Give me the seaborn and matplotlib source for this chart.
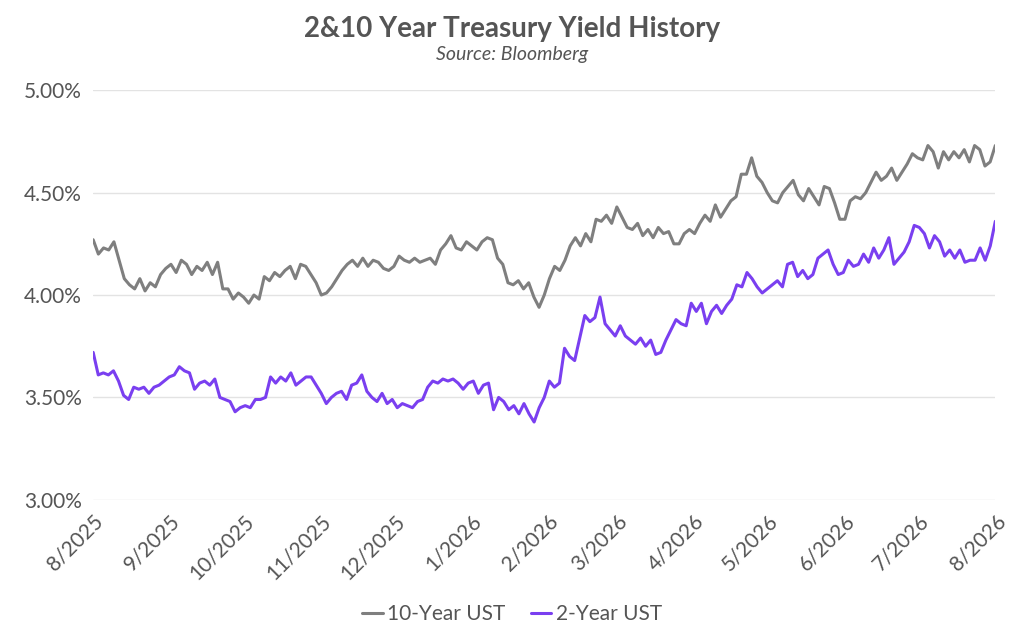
import matplotlib as mpl
mpl.use("Agg")
import matplotlib.pyplot as plt
import matplotlib.dates as mdates
from matplotlib.ticker import FuncFormatter
import numpy as np
import pandas as pd
import seaborn as sns

# 10-Year UST, roughly every 2-3 trading days, Aug 2025 -> Aug 2026
ten_year = [
    4.27, 4.20, 4.23, 4.22, 4.26, 4.17, 4.08, 4.05, 4.03, 4.08, 4.02, 4.06, 4.04,
    4.10, 4.13, 4.15, 4.11, 4.17, 4.15, 4.10, 4.14, 4.12, 4.16, 4.10, 4.16, 4.03, 4.03,
    3.98, 4.01, 3.99, 3.96, 4.00, 3.98, 4.09, 4.07, 4.11, 4.09, 4.12, 4.14, 4.08, 4.15, 4.14,
    4.10, 4.06, 4.00, 4.01, 4.04, 4.08, 4.12, 4.15, 4.17, 4.14, 4.18, 4.14, 4.17, 4.16, 4.13,
    4.12, 4.14, 4.19, 4.17, 4.16, 4.18, 4.16, 4.17, 4.18, 4.15, 4.22, 4.25, 4.29,
    4.23, 4.22, 4.26, 4.24, 4.22, 4.26, 4.28, 4.27, 4.18, 4.15, 4.06, 4.05, 4.07, 4.03, 4.06,
    3.99, 3.94, 4.00, 4.08, 4.14, 4.12, 4.17, 4.24, 4.28, 4.24, 4.30, 4.26, 4.37,
    4.36, 4.39, 4.35, 4.43, 4.38, 4.33, 4.32, 4.35, 4.29, 4.32, 4.28, 4.33, 4.30, 4.31, 4.25,
    4.25, 4.30, 4.32, 4.30, 4.35, 4.39, 4.36, 4.44, 4.38, 4.42, 4.46, 4.48, 4.59, 4.59, 4.67, 4.58,
    4.55, 4.50, 4.46, 4.45, 4.50, 4.53, 4.56, 4.49, 4.46, 4.52, 4.48, 4.44, 4.53, 4.52, 4.45, 4.37, 4.37,
    4.46, 4.48, 4.47, 4.50, 4.55, 4.60, 4.56, 4.58, 4.62, 4.56, 4.60, 4.64, 4.69,
    4.67, 4.66, 4.73, 4.70, 4.62, 4.70, 4.66, 4.70, 4.67, 4.71, 4.65, 4.73, 4.71, 4.63, 4.65, 4.73,
]
two_year = [
    3.72, 3.61, 3.62, 3.61, 3.63, 3.58, 3.51, 3.49, 3.55, 3.54, 3.55, 3.52, 3.55,
    3.56, 3.58, 3.60, 3.61, 3.65, 3.63, 3.62, 3.54, 3.57, 3.58, 3.56, 3.59, 3.50,
    3.49, 3.48, 3.43, 3.45, 3.46, 3.45, 3.49, 3.49, 3.50, 3.60, 3.57, 3.60, 3.58, 3.62, 3.56,
    3.58, 3.60, 3.60, 3.56, 3.52, 3.47, 3.50, 3.52, 3.53, 3.49, 3.56, 3.57, 3.61, 3.53,
    3.50, 3.48, 3.52, 3.47, 3.49, 3.45, 3.47, 3.46, 3.45, 3.48, 3.49, 3.55, 3.58, 3.57,
    3.59, 3.58, 3.59, 3.57, 3.54, 3.57, 3.58, 3.52, 3.56, 3.57, 3.44, 3.50, 3.48, 3.44, 3.46, 3.42,
    3.47, 3.42, 3.38, 3.45, 3.50, 3.58, 3.55, 3.57, 3.74, 3.70, 3.68, 3.79, 3.90,
    3.87, 3.89, 3.99, 3.86, 3.83, 3.80, 3.85, 3.80, 3.78, 3.76, 3.79, 3.75, 3.78, 3.71, 3.72,
    3.78, 3.83, 3.88, 3.86, 3.85, 3.96, 3.92, 3.96, 3.86, 3.92, 3.95, 3.91, 3.95, 3.98, 4.05, 4.04, 4.11,
    4.08, 4.04, 4.01, 4.03, 4.05, 4.07, 4.04, 4.15, 4.16, 4.09, 4.12, 4.08, 4.10, 4.18, 4.20, 4.22, 4.15,
    4.10, 4.11, 4.17, 4.14, 4.15, 4.20, 4.16, 4.23, 4.18, 4.22, 4.28, 4.15, 4.18, 4.21,
    4.26, 4.34, 4.33, 4.30, 4.23, 4.29, 4.26, 4.19, 4.22, 4.18, 4.22, 4.16, 4.17, 4.17, 4.23, 4.17, 4.24, 4.36,
]
start, end = pd.Timestamp("2025-08-01"), pd.Timestamp("2026-08-01")
tick_dates = pd.date_range(start, end, freq="MS")

df = pd.concat([
    pd.DataFrame({"date": pd.date_range(start, end, periods=len(ten_year)),
                  "yield": ten_year, "series": "10-Year UST"}),
    pd.DataFrame({"date": pd.date_range(start, end, periods=len(two_year)),
                  "yield": two_year, "series": "2-Year UST"}),
])

sns.set_style("white")
plt.rcParams["font.family"] = ["Lato", "DejaVu Sans"]
TXT = "#555555"

fig = plt.figure(figsize=(10.24, 6.4), dpi=100)
ax = fig.add_axes([0.091, 0.219, 0.881, 0.640])
sns.lineplot(data=df, x="date", y="yield", hue="series",
             palette={"10-Year UST": "#7f7f7f", "2-Year UST": "#7a3ff0"},
             linewidth=2.2, ax=ax, legend=False)

ax.set_xlim(start, end)
ax.set_ylim(3.0, 5.0)
ax.set_yticks([3.0, 3.5, 4.0, 4.5, 5.0])
ax.yaxis.set_major_formatter(FuncFormatter(lambda v, _: f"{v:.2f}%"))
ax.set_xticks(tick_dates)
ax.set_xticklabels([f"{d.month}/{d.year}" for d in tick_dates],
                   rotation=45, ha="right", rotation_mode="anchor")
ax.tick_params(axis="both", labelsize=15, colors=TXT, length=0, pad=8)
ax.grid(axis="y", color="#e3e3e3", linewidth=1)
for s in ax.spines.values():
    s.set_visible(False)
ax.set_xlabel("")
ax.set_ylabel("")

fig.text(0.5, 0.955, "2&10 Year Treasury Yield History", ha="center", va="center",
         fontsize=20, fontweight="bold", color=TXT)
fig.text(0.5, 0.915, "Source: Bloomberg", ha="center", va="center",
         fontsize=14, style="italic", color=TXT)

from matplotlib.lines import Line2D
handles = [Line2D([], [], color="#7f7f7f", lw=2.2), Line2D([], [], color="#7a3ff0", lw=2.2)]
fig.legend(handles, ["10-Year UST", "2-Year UST"], loc="center", bbox_to_anchor=(0.5, 0.04),
           ncol=2, frameon=False, fontsize=15, labelcolor=TXT, handlelength=1.0,
           handletextpad=0.2, columnspacing=1.2)

fig.savefig("out.png", dpi=100)
